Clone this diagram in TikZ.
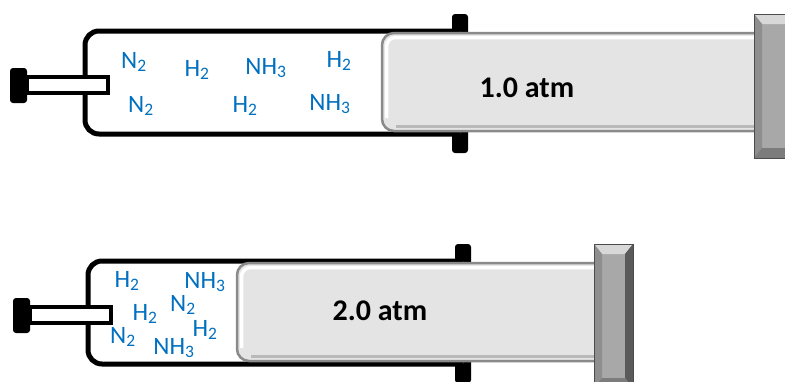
\documentclass[tikz,border=0pt]{standalone}
\usepackage{fontspec}
\setmainfont{Carlito}
\usepackage{tikz}
\usetikzlibrary{positioning}

\definecolor{gasblue}{HTML}{0070C0}
\definecolor{plungerfill}{HTML}{E4E4E4}
\definecolor{plungeredge}{HTML}{8A8A8A}
\definecolor{capface}{HTML}{A8A8A8}
\definecolor{captop}{HTML}{D8D8D8}
\definecolor{capleft}{HTML}{8E8E8E}
\definecolor{capright}{HTML}{5A5A5A}
\definecolor{capbottom}{HTML}{7C7C7C}

\tikzset{
  gas/.style={text=gasblue,font=\fontsize{25}{28}\selectfont,inner sep=0pt},
  atm/.style={font=\fontsize{30}{34}\selectfont\bfseries,inner sep=0pt},
  wall/.style={line width=5pt,line join=round},
}

\begin{document}
\begin{tikzpicture}[x=1pt,y=-1pt]
  \clip (0,0) rectangle (785,381);
  % both syringes: shift, plunger front, end cap
  \foreach \dx/\dy/\pl/\cl in {0/0/382/754, 3/230/234/591} {
    \begin{scope}[shift={(\dx,\dy)}]
      % finger flange behind the barrel
      \fill[black,rounded corners=3] (452,14) rectangle (468,153);
      % barrel, open at the plunger end
      \draw[wall,rounded corners=14,fill=white] (460,31) -- (85,31) -- (85,134) -- (460,134);
      % nozzle
      \fill[black,rounded corners=3] (10,68) rectangle (27,103);
      \draw[line width=4pt,fill=white] (27,77) rectangle (108,93);
      % plunger
      \draw[plungeredge,line width=2.5pt,fill=plungerfill,rounded corners=12]
        (\cl,131) -- (\pl,131) -- (\pl,33) -- (\cl,33);
      \draw[white,line width=3.5pt,rounded corners=9] (\pl+4.5,118) -- (\pl+4.5,37.5) -- (\cl,37.5);
      \draw[gray!55,line width=3pt] (\pl+14,126.5) -- (\cl,126.5);
      % end cap with bevel
      \fill[capface] (\cl,14) rectangle (\cl+39,158);
      \fill[captop] (\cl,14) -- (\cl+39,14) -- (\cl+31,24) -- (\cl+8,24) -- cycle;
      \fill[capleft] (\cl,14) -- (\cl+8,24) -- (\cl+8,148) -- (\cl,158) -- cycle;
      \fill[capright] (\cl+39,14) -- (\cl+31,24) -- (\cl+31,148) -- (\cl+39,158) -- cycle;
      \fill[capbottom] (\cl,158) -- (\cl+8,148) -- (\cl+31,148) -- (\cl+39,158) -- cycle;
      \draw[gray!60!black,line width=1pt] (\cl,14) rectangle (\cl+39,158);
    \end{scope}
  }
  % gas at 1.0 atm
  \node[gas] (topNa) at (134,62) {N\textsubscript{2}};
  \node[gas] (topHa) at (197,70) {H\textsubscript{2}};
  \node[gas] (topNHa) at (266,68) {NH\textsubscript{3}};
  \node[gas] (topHb) at (339,61) {H\textsubscript{2}};
  \node[gas] (topNb) at (141,106) {N\textsubscript{2}};
  \node[gas] (topHc) at (245,106) {H\textsubscript{2}};
  \node[gas] (topNHb) at (330,104) {NH\textsubscript{3}};
  \node[atm] (topP) at (527,88) {1.0 atm};
  % gas at 2.0 atm
  \node[gas] (botHa) at (127,281) {H\textsubscript{2}};
  \node[gas] (botNHa) at (205,282) {NH\textsubscript{3}};
  \node[gas] (botNa) at (183,305) {N\textsubscript{2}};
  \node[gas] (botHb) at (145,314) {H\textsubscript{2}};
  \node[gas] (botHc) at (205,330) {H\textsubscript{2}};
  \node[gas] (botNb) at (123,337) {N\textsubscript{2}};
  \node[gas] (botNHb) at (174,348) {NH\textsubscript{3}};
  \node[atm] (botP) at (380,311) {2.0 atm};
\end{tikzpicture}
\end{document}
